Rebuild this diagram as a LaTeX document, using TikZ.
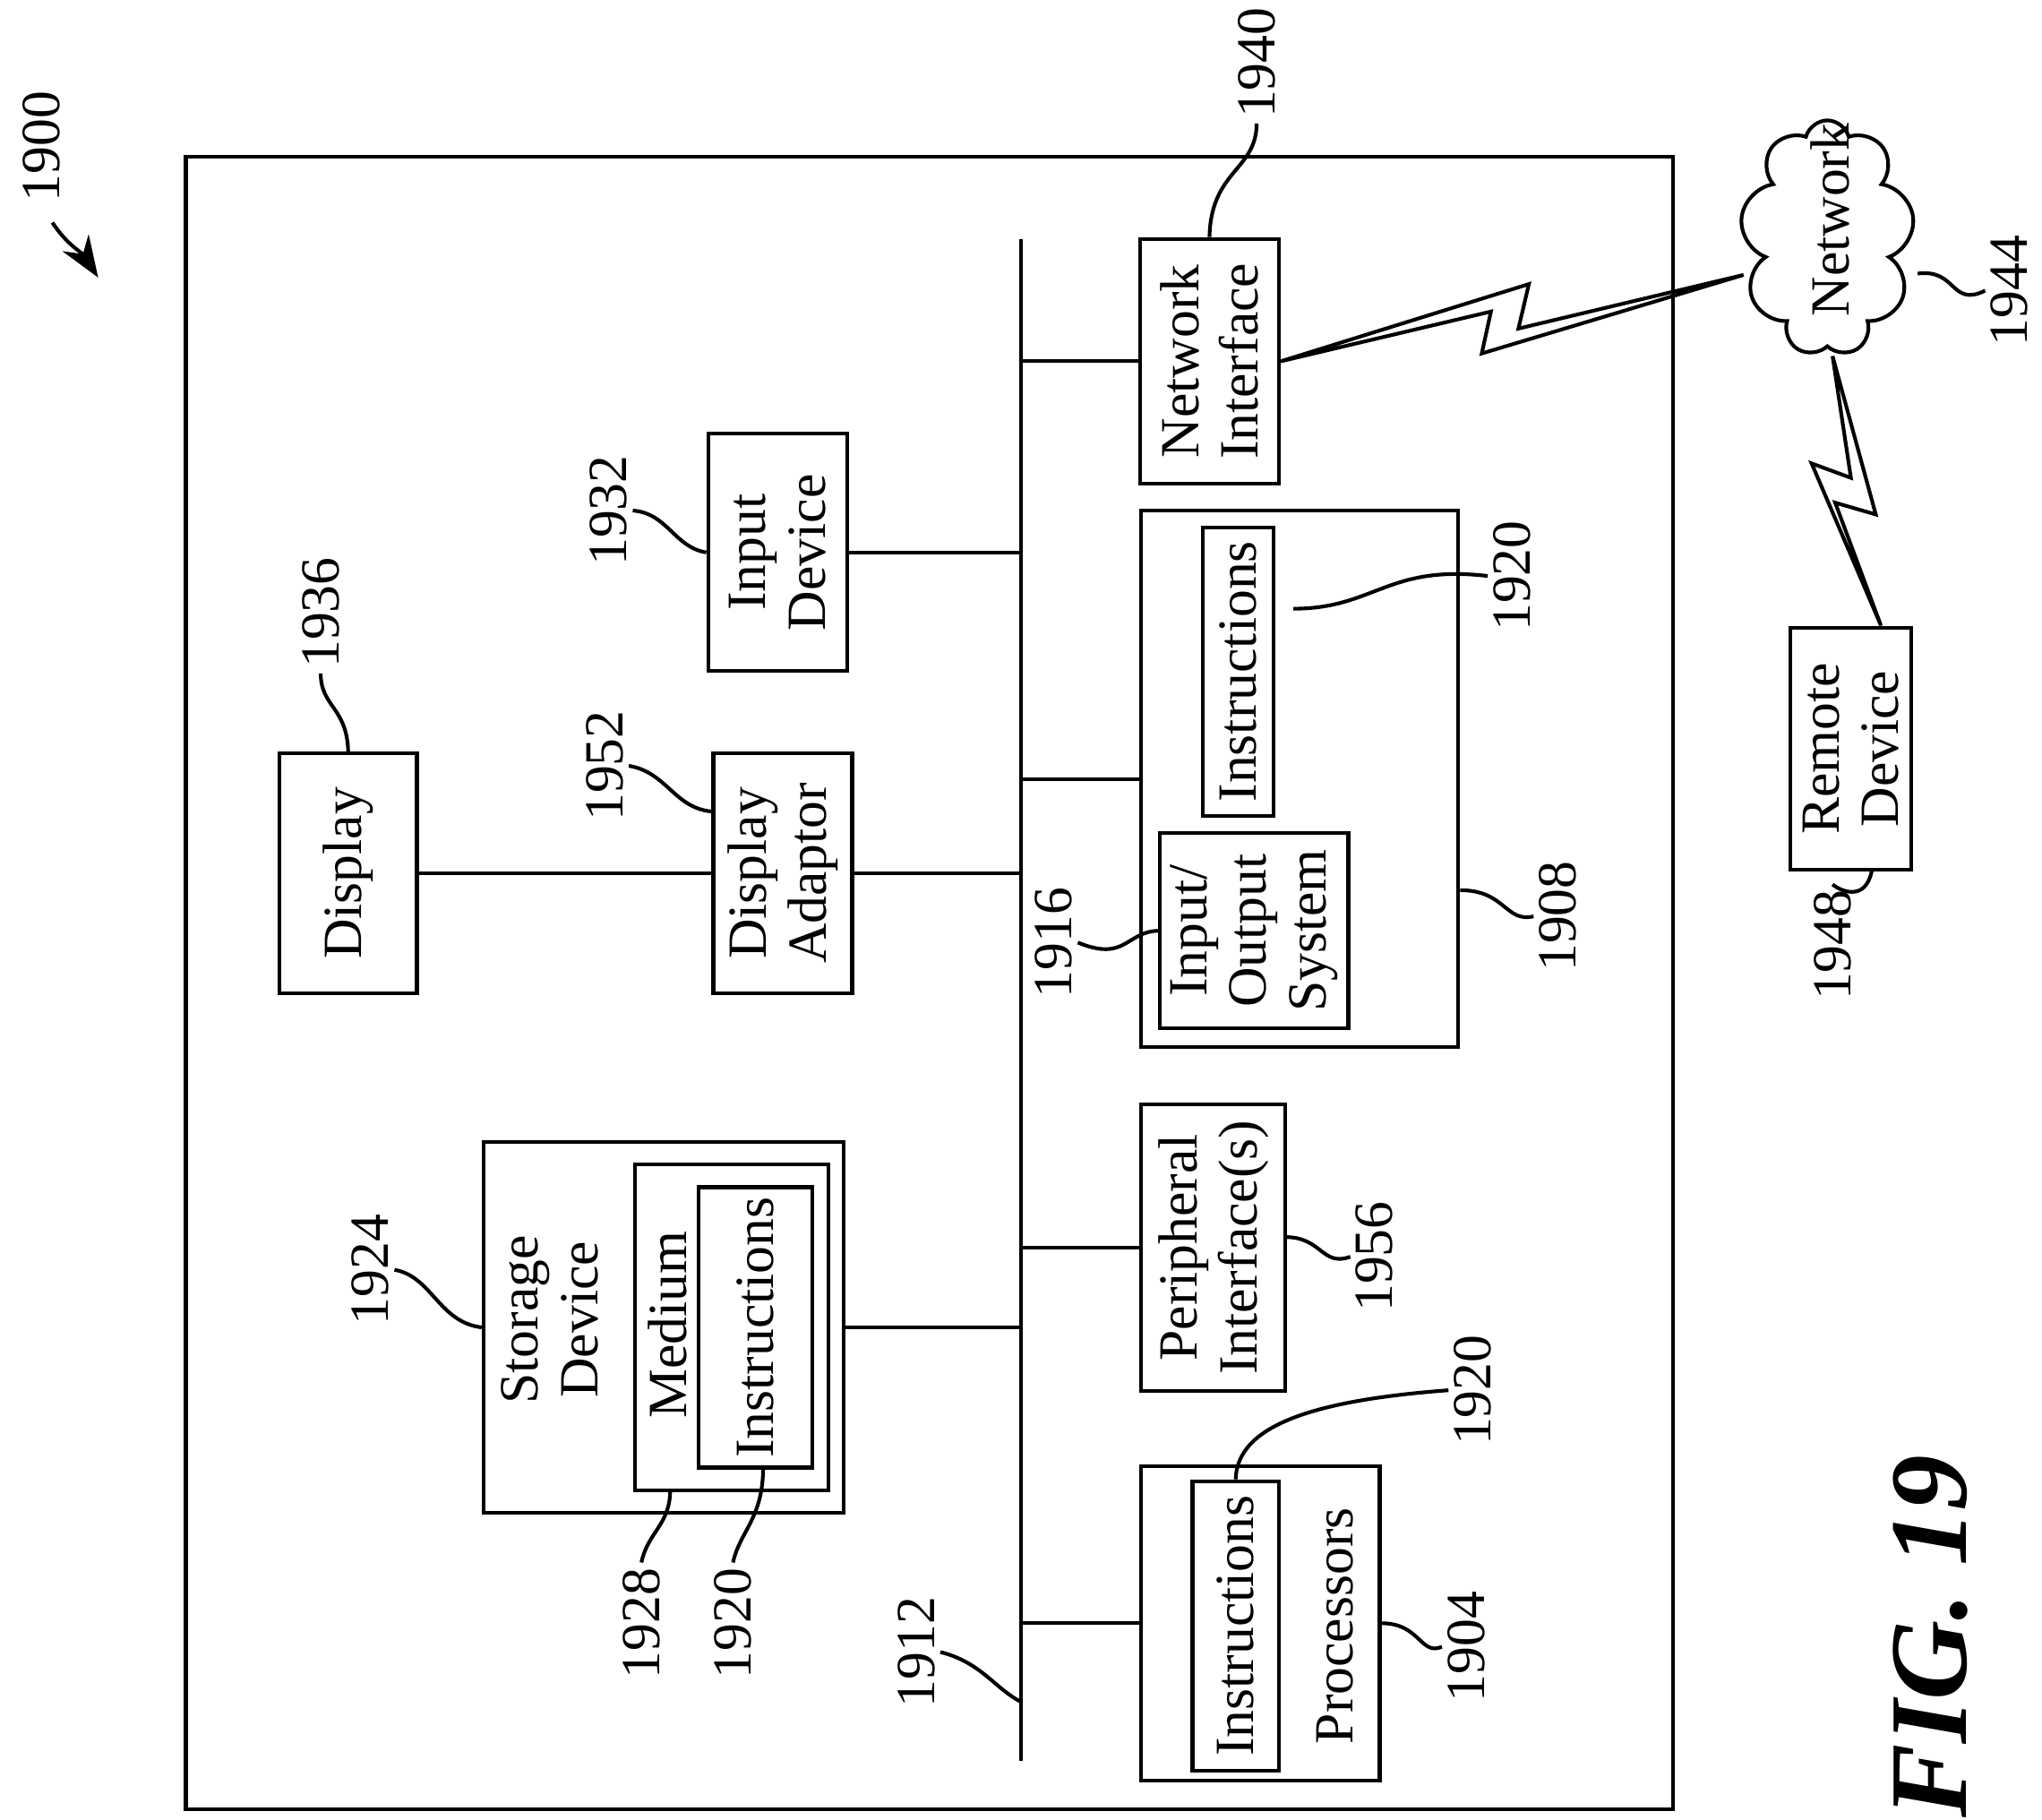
\documentclass[tikz,border=0pt]{standalone}
\usepackage{fontspec}
\setmainfont{Liberation Serif}
\usetikzlibrary{arrows.meta,shapes.symbols}

\tikzset{
  box/.style={draw,thick,rotate=90,align=center,inner sep=1pt,font=\fontsize{12}{13}\selectfont},
  txt/.style={rotate=90,align=center,inner sep=1pt,font=\fontsize{12}{13}\selectfont},
  num/.style={rotate=90,inner sep=1pt,font=\fontsize{12}{13}\selectfont},
  leader/.style={thick},
  link/.style={thick},
}

\begin{document}
\begin{tikzpicture}[x=0.01cm,y=-0.01cm]
  \useasboundingbox (0,0) rectangle (1560,1390);

  % outer frame and bus
  \draw[thick] (142,120) rectangle (1278,1382);
  \coordinate (bt) at (780,183);
  \coordinate (bb) at (780,1345);
  \draw[thick] (bt) -- (bb);

  % blocks
  \node[box,minimum width=1.87cm,minimum height=1.06cm] (ni) at (924,276) {Network\\Interface};
  \node[box,minimum width=1.81cm,minimum height=1.06cm] (inp) at (594,422) {Input\\Device};
  \node[box,minimum width=4.10cm,minimum height=2.42cm] (mem) at (993,595) {};
  \node[box,minimum width=2.20cm,minimum height=0.54cm] (ins1) at (946,513) {Instructions};
  \node[box,minimum width=1.49cm,minimum height=1.44cm] (ios) at (958,711) {Input/\\Output\\System};
  \node[box,minimum width=1.83cm,minimum height=1.05cm] (disp) at (266,667) {Display};
  \node[box,minimum width=1.83cm,minimum height=1.06cm] (dad) at (598,667) {Display\\Adaptor};
  \node[box,minimum width=2.83cm,minimum height=2.75cm] (stor) at (507,1014) {};
  \node[txt] (stortxt) at (420,1008) {Storage\\Device};
  \node[box,minimum width=2.49cm,minimum height=1.48cm] (med) at (559,1014) {};
  \node[txt] (medtxt) at (510,1012) {Medium};
  \node[box,minimum width=2.14cm,minimum height=0.87cm] (ins2) at (577,1014) {Instructions};
  \node[box,minimum width=2.19cm,minimum height=1.10cm] (per) at (927,953) {Peripheral\\Interface(s)};
  \node[box,minimum width=2.40cm,minimum height=1.82cm] (proc) at (963,1240) {};
  \node[box,minimum width=2.21cm,minimum height=0.66cm] (ins3) at (944,1242) {Instructions};
  \node[txt] (proctxt) at (1020,1242) {Processors};
  \node[draw,thick,cloud,cloud puffs=9,aspect=0.75,minimum width=1.33cm,minimum height=1.80cm,
        inner sep=0pt] (net) at (1396,182) {};
  \node[txt] (nettxt) at (1398,168) {Network};
  \node[box,minimum width=1.85cm,minimum height=0.92cm] (rem) at (1414,572) {Remote\\Device};

  % bus taps
  \draw[link] (ni.north) -- (ni.north -| bt);
  \draw[link] (inp.south) -- (inp.south -| bt);
  \draw[link] (mem.north) -- (mem.north -| bt);
  \draw[link] (disp.south) -- (dad.north);
  \draw[link] (dad.south) -- (dad.south -| bt);
  \draw[link] (stor.south) -- (stor.south -| bt);
  \draw[link] (per.north) -- (per.north -| bt);
  \draw[link] (proc.north) -- (proc.north -| bt);

  % wireless links
  \coordinate (nw) at (1332,210);
  \draw[link,line join=miter] (ni.south) -- (1168,217) -- (1160,251) -- (nw)
        (ni.south) -- (1139,238) -- (1132,270) -- (nw);
  \coordinate (nb) at (1400,272);
  \coordinate (rt) at (1437,478);
  \draw[link,line join=miter] (nb) -- (1433,393) -- (1402,384) -- (rt)
        (nb) -- (1414,365) -- (1384,354) -- (rt);

  % reference numerals
  \node[num] (l1900) at (32,112) {1900};
  \coordinate (a1900) at (75,212);
  \draw[thick,-{Stealth[length=9pt]}] (40,170) .. controls (52,188) and (62,192) .. (a1900);
  \node[num] (l1940) at (960,48) {1940};
  \draw[leader] (l1940.west) .. controls (960,130) and (925,130) .. (ni.east);
  \node[num] (l1944) at (1535,222) {1944};
  \draw[leader] (1465,209) .. controls (1495,205) and (1490,235) .. (l1944.north);
  \node[num] (l1932) at (465,390) {1932};
  \draw[leader] (l1932.south) .. controls (510,392) and (515,418) .. (inp.north);
  \node[num] (l1936) at (245,468) {1936};
  \draw[leader] (l1936.west) .. controls (245,540) and (265,540) .. (disp.east);
  \node[num] (l1952) at (462,585) {1952};
  \draw[leader] (l1952.south) .. controls (510,590) and (515,618) .. (545,620);
  \node[num] (l1920a) at (1155,440) {1920};
  \draw[leader] (l1920a.north) .. controls (1060,431) and (1050,465) .. (988,465);
  \node[num] (l1908) at (1190,700) {1908};
  \draw[leader] (mem.south |- 0,680) .. controls (1150,680) and (1150,705) .. (l1908.north);
  \node[num] (l1916) at (805,720) {1916};
  \draw[leader] (l1916.south) .. controls (860,735) and (860,712) .. (ios.north);
  \node[num] (l1924) at (283,970) {1924};
  \draw[leader] (l1924.south) .. controls (330,975) and (335,1010) .. (stor.north);
  \node[num] (l1956) at (1050,960) {1956};
  \draw[leader] (982,945) .. controls (1010,945) and (1010,968) .. (l1956.north);
  \node[num] (l1920b) at (1125,1062) {1920};
  \draw[leader] (l1920b.north) .. controls (1000,1070) and (945,1090) .. (ins3.east);
  \node[num] (l1928) at (490,1240) {1928};
  \draw[leader] (l1928.east) .. controls (495,1170) and (512,1165) .. (512,1138);
  \node[num] (l1920c) at (560,1240) {1920};
  \draw[leader] (l1920c.east) .. controls (565,1170) and (583,1160) .. (583,1121);
  \node[num] (l1912) at (700,1262) {1912};
  \draw[leader] (l1912.south) .. controls (750,1270) and (760,1290) .. (bb |- 0,1300);
  \node[num] (l1904) at (1120,1258) {1904};
  \draw[leader] (proc.south |- 0,1240) .. controls (1085,1240) and (1085,1265) .. (l1904.north);
  \node[num] (l1948) at (1400,722) {1948};
  \draw[leader] (l1948.east) .. controls (1405,680) and (1425,690) .. (1430,665);

  \node[rotate=90,font=\bfseries\itshape\fontsize{24}{26}\selectfont] (fig) at (1475,1250) {FIG. 19};
\end{tikzpicture}
\end{document}
